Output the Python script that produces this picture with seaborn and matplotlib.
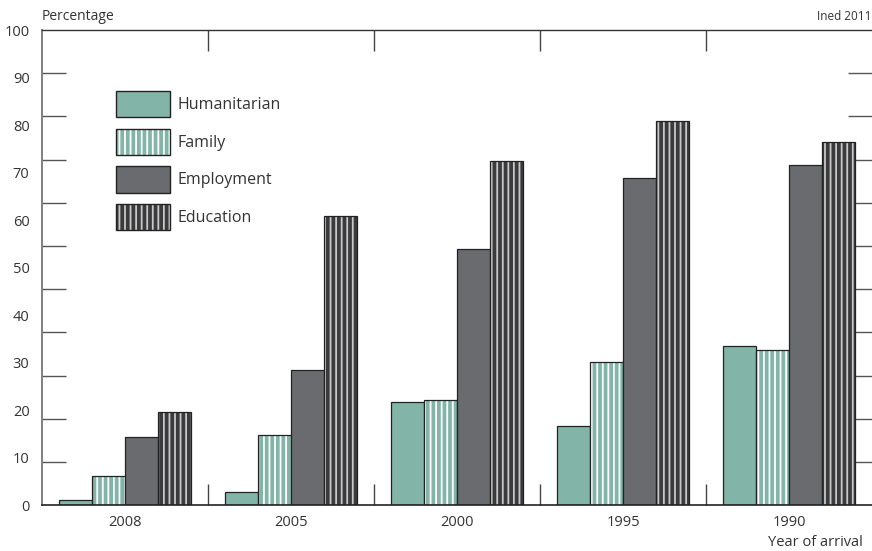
import numpy as np
import pandas as pd
import matplotlib
matplotlib.use("Agg")
import matplotlib.pyplot as plt
import seaborn as sns
from matplotlib.patches import Patch
from matplotlib.colors import to_rgba

# ---- data ----
years = ["2008", "2005", "2000", "1995", "1990"]
reasons = ["Humanitarian", "Family", "Employment", "Education"]
humanitarian = [1.05, 2.9, 21.7, 16.7, 33.6]
family = [6.1, 14.7, 22.1, 30.2, 32.7]
employment = [14.4, 28.5, 53.9, 68.8, 71.7]
education = [19.6, 60.9, 72.4, 80.9, 76.4]
y_tick_labels = [str(v) for v in range(0, 101, 10)]

series = {"Humanitarian": humanitarian, "Family": family,
          "Employment": employment, "Education": education}
df = pd.DataFrame([(y, r, series[r][i]) for r in reasons for i, y in enumerate(years)],
                  columns=["year", "reason", "value"])

# ---- style ----
sns.set_style("white")
plt.rcParams["font.family"] = ["Open Sans", "DejaVu Sans"]
plt.rcParams["hatch.linewidth"] = 1.3
TXT = "#333333"
EDGE = "#222222"

face = {"Humanitarian": "#82b5a7", "Family": "#82b5a7",
        "Employment": "#6a6b6f", "Education": "#3b3b3d"}
hatch = {"Humanitarian": None, "Family": "|||", "Employment": None, "Education": "|||"}
hcol = {"Humanitarian": EDGE, "Family": "#ffffff", "Employment": EDGE, "Education": "#c8c8c8"}


def set_hatch_color(p, c):
    try:
        p.set_hatchcolor(c)
    except AttributeError:
        p._hatch_color = to_rgba(c)


fig = plt.figure(figsize=(8.72, 5.51), dpi=100)
ax = fig.add_axes([42 / 872, 1 - 505.3 / 551, 830 / 872, (505.3 - 30) / 551])

sns.barplot(data=df, x="year", y="value", hue="reason", order=years, hue_order=reasons,
            palette=face, saturation=1, width=0.8, gap=0, errorbar=None,
            edgecolor=EDGE, linewidth=0.9, legend=False, ax=ax, zorder=2)

for cont, r in zip(ax.containers, reasons):
    for p in cont:
        if hatch[r]:
            p.set_hatch(hatch[r])
            set_hatch_color(p, hcol[r])

ax.set_xlim(-0.5, 4.5)
ax.set_ylim(0, 100)

# y labels (evenly spread 0-100) and tick marks (11 divisions)
ax.set_yticks(range(0, 101, 10))
ax.set_yticklabels(y_tick_labels)
ax.set_yticks(np.arange(1, 11) * 100 / 11, minor=True)
ax.tick_params(axis="y", which="major", length=0, pad=9, labelsize=10.5, labelcolor=TXT)
ax.tick_params(axis="y", which="minor", direction="in", length=17.3, width=1.0,
               color="#555555", left=True, right=True)

ax.set_xticks(range(len(years)))
ax.set_xticklabels(years)
ax.set_xticks(np.arange(0.5, 4.5, 1), minor=True)
ax.tick_params(axis="x", which="major", length=0, pad=7, labelsize=10.5, labelcolor=TXT)
ax.tick_params(axis="x", which="minor", direction="in", length=15, width=1.0,
               color="#444444", top=True, bottom=True)
for t in ax.yaxis.get_minorticklines() + ax.xaxis.get_minorticklines():
    t.set_zorder(5)

ax.set_xlabel("")
ax.set_ylabel("")

for s in ["left", "top", "bottom", "right"]:
    ax.spines[s].set_zorder(6)
ax.spines["right"].set_visible(False)
ax.spines["left"].set_color("#808080")
ax.spines["left"].set_linewidth(1.4)
ax.spines["top"].set_color("#333333")
ax.spines["top"].set_linewidth(1.0)
ax.spines["bottom"].set_color("#222222")
ax.spines["bottom"].set_linewidth(1.2)

# legend
handles = []
for r in reasons:
    h = Patch(facecolor=face[r], edgecolor=EDGE, linewidth=1.0, hatch=hatch[r], label=r)
    if hatch[r]:
        set_hatch_color(h, hcol[r])
    handles.append(h)
leg = ax.legend(handles=handles, loc="upper left", bbox_to_anchor=(0.089, 0.872),
                frameon=False, fontsize=11.5, handlelength=3.4, handleheight=2.15,
                labelspacing=0.72, handletextpad=0.45, borderpad=0, borderaxespad=0)
for t in leg.get_texts():
    t.set_color(TXT)

fig.text(42 / 872, 1 - 16.5 / 551, "Percentage", ha="left", va="center", fontsize=10, color=TXT)
fig.text(871 / 872, 1 - 16 / 551, "Ined 2011", ha="right", va="center", fontsize=8.5, color=TXT)
fig.text(863 / 872, 1 - 543 / 551, "Year of arrival", ha="right", va="center", fontsize=10.5, color=TXT)

fig.savefig("out.png", dpi=100)
